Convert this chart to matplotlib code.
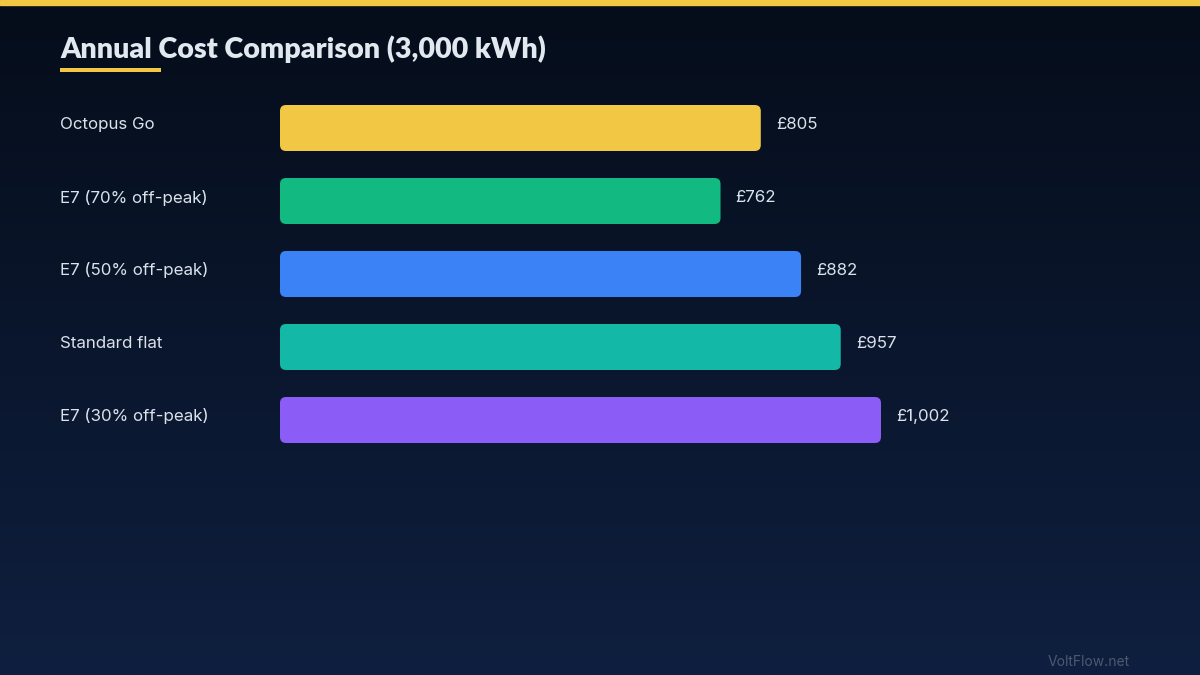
import numpy as np
import matplotlib.pyplot as plt
from matplotlib.patches import FancyBboxPatch
from matplotlib.colors import LinearSegmentedColormap

# data
tariffs = ["Octopus Go", "E7 (70% off-peak)", "E7 (50% off-peak)", "Standard flat", "E7 (30% off-peak)"]
costs = [805, 762, 882, 957, 1002]
bar_pct = [80.0, 73.3, 86.7, 93.3, 100.0]   # bar length as shown, % of the track
colors = ["#f2c744", "#12b981", "#3b82f6", "#14b8a6", "#8b5cf6"]

W, H = 1200, 675
fig = plt.figure(figsize=(12, 6.75), dpi=100)
ax = fig.add_axes([0, 0, 1, 1])
ax.set_xlim(0, W)
ax.set_ylim(H, 0)
ax.axis("off")

# background gradient
bg = LinearSegmentedColormap.from_list("bg", ["#050d1a", "#0f1f3f"])
grad = np.linspace(0, 1, 256).reshape(-1, 1)
ax.imshow(grad, cmap=bg, extent=[0, W, H, 0], aspect="auto", zorder=0)

# top accent line
ax.axhspan(0, 5, color="#f2c744", zorder=1)

ax.text(60, 49, "Annual Cost Comparison (3,000 kWh)", fontsize=20.6, fontweight="heavy",
        family="Lato", color="#e2e8f0", va="center", ha="left")
ax.add_patch(plt.Rectangle((60, 68), 101, 4, color="#f2c744", lw=0))

track_x, track_w = 280, 601
top, step, bh = 105, 73, 46
for i, (name, cost, pct, c) in enumerate(zip(tariffs, costs, bar_pct, colors)):
    y = top + i * step
    w = track_w * pct / 100
    ax.add_patch(FancyBboxPatch((track_x + 6, y + 6), w - 12, bh - 12,
                                boxstyle="round,pad=6", fc=c, ec="none", zorder=2))
    ax.text(60, y + 19.5, name, fontsize=12.2, family="Inter", color="#dbe2ec",
            va="center", ha="left")
    ax.text(track_x + w + 15, y + 19.5, f"£{cost:,}", fontsize=12.2, family="Inter",
            color="#dbe2ec", va="center", ha="left")

ax.text(1130, 662, "VoltFlow.net", fontsize=10, family="Inter", color="#4b5a70",
        va="center", ha="right")

fig.savefig("out.png", dpi=100)
